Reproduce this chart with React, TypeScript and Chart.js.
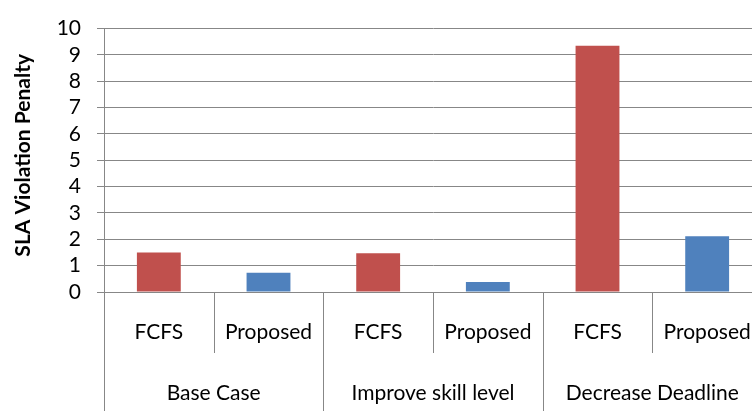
import React, { useEffect, useRef } from "react";
import { Chart, registerables } from "chart.js";

Chart.register(...registerables);

// Scenario groups and the scheduling methods compared in each
const groups = ["Base Case", "Improve skill level", "Decrease Deadline"];
const methods = ["FCFS", "Proposed"];
// SLA violation penalty per (group, method), in category order
const penalties = [1.5, 0.73, 1.47, 0.38, 9.35, 2.12];
const yTickValues = [0, 1, 2, 3, 4, 5, 6, 7, 8, 9, 10];
const yTitle = "SLA Violation Penalty";

const methodColors: Record<string, string> = {
  FCFS: "#C0504D",
  Proposed: "#4F81BD",
};

const GRID = "#878787";
const FONT = "Lato, 'Open Sans', sans-serif";
const FONT_SIZE = 21;

const categoryLabels = groups.flatMap((g) => methods.map((m) => m));

// Two-level category table under the x axis (method row, then group row),
// plus the rotated y-axis title
const groupedAxisPlugin = {
  id: "groupedAxis",
  afterDraw(chart: any) {
    const { ctx, chartArea } = chart;
    const x = chart.scales.x;
    const n = categoryLabels.length;
    const step = x.getPixelForValue(1) - x.getPixelForValue(0);
    const edge = (i: number) => x.getPixelForValue(0) - step / 2 + i * step;
    const base = chartArea.bottom;
    const rowSplit = base + 61;
    const bottom = chart.height;

    ctx.save();
    ctx.strokeStyle = GRID;
    ctx.lineWidth = 1;
    for (let i = 0; i <= n; i++) {
      const px = Math.round(edge(i)) + 0.5;
      const isGroupEdge = i % methods.length === 0;
      ctx.beginPath();
      ctx.moveTo(px, base);
      ctx.lineTo(px, isGroupEdge ? bottom : rowSplit);
      ctx.stroke();
    }

    ctx.fillStyle = "#000";
    ctx.textAlign = "center";
    ctx.textBaseline = "middle";
    ctx.font = `${FONT_SIZE}px ${FONT}`;
    for (let i = 0; i < n; i++) {
      ctx.fillText(categoryLabels[i], x.getPixelForValue(i), base + 40);
    }
    groups.forEach((g, gi) => {
      const left = edge(gi * methods.length);
      const right = edge((gi + 1) * methods.length);
      ctx.fillText(g, (left + right) / 2, base + 101);
    });

    // y-axis title
    ctx.translate(23, (chartArea.top + chartArea.bottom) / 2 - 5);
    ctx.rotate(-Math.PI / 2);
    ctx.font = `bold ${FONT_SIZE}px ${FONT}`;
    ctx.fillText(yTitle, 0, 0);
    ctx.restore();
  },
};

export default function App() {
  const canvasRef = useRef<HTMLCanvasElement | null>(null);

  useEffect(() => {
    if (!canvasRef.current) return;
    const chart = new Chart(canvasRef.current, {
      type: "bar",
      data: {
        labels: categoryLabels,
        datasets: [
          {
            data: penalties,
            backgroundColor: categoryLabels.map((m) => methodColors[m]),
            borderWidth: 0,
            barPercentage: 0.4,
            categoryPercentage: 1,
          },
        ],
      },
      options: {
        responsive: false,
        animation: false,
        layout: { padding: { top: 20, right: 0, left: 0, bottom: 0 } },
        plugins: {
          legend: { display: false },
          tooltip: { enabled: false },
        },
        scales: {
          x: {
            type: "category",
            offset: true,
            grid: { display: false },
            border: { display: false },
            ticks: { display: false },
            afterFit: (scale: any) => {
              scale.height = 119;
            },
          },
          y: {
            min: 0,
            max: 10,
            afterBuildTicks: (scale: any) => {
              scale.ticks = yTickValues.map((v) => ({ value: v }));
            },
            grid: { color: GRID, tickLength: 7, lineWidth: 1 },
            border: { display: true, color: GRID },
            ticks: {
              color: "#000",
              padding: 16,
              autoSkip: false,
              font: { family: FONT, size: FONT_SIZE },
            },
            afterFit: (scale: any) => {
              scale.width = 104;
            },
          },
        },
      },
      plugins: [groupedAxisPlugin],
    });
    return () => chart.destroy();
  }, []);

  return (
    <div
      style={{
        position: "absolute",
        left: 0,
        top: 0,
        width: 752,
        height: 411,
        overflow: "hidden",
        background: "#fff",
      }}
    >
      <canvas
        ref={canvasRef}
        width={762}
        height={411}
        style={{ width: 762, height: 411, display: "block" }}
      />
    </div>
  );
}
